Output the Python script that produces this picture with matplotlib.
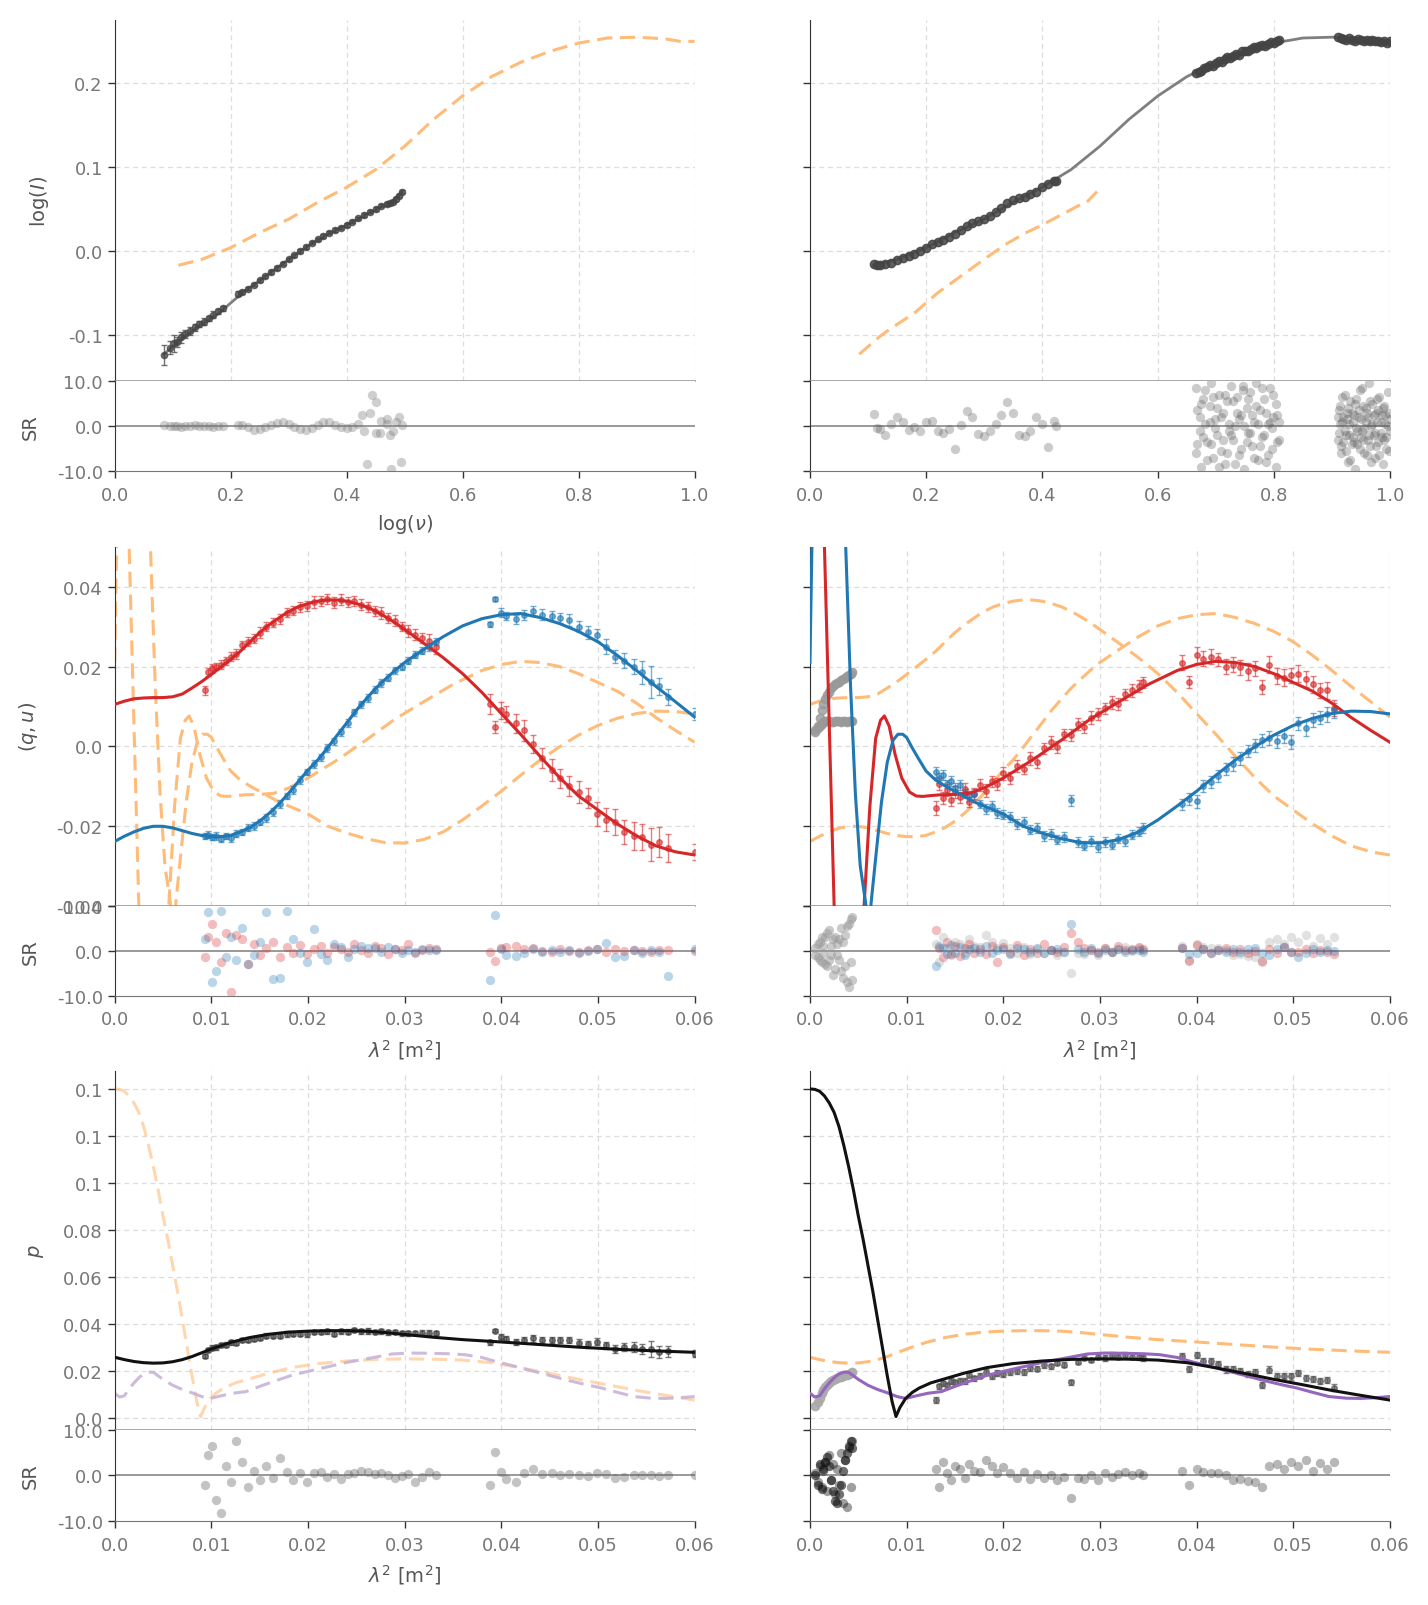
import matplotlib
matplotlib.use("Agg")
import matplotlib.pyplot as plt

# ======================= DATA =======================
# ---- Row 1 : log(I) vs log(nu) ----
xI_L = [0.085,0.095,0.102,0.108,0.115,0.122,0.13,0.138,0.146,0.154,0.162,0.17,0.178,0.186,
        0.212,0.22,0.23,0.24,0.25,0.26,0.27,0.28,0.29,0.30,0.31,0.32,0.33,0.34,0.35,0.36,0.37,
        0.38,0.39,0.40,0.41,0.42,0.43,0.44,0.45,0.46,0.47,0.475,0.48,0.485,0.49,0.495]
yI_L = [-0.124,-0.115,-0.110,-0.108,-0.103,-0.099,-0.095,-0.091,-0.087,-0.084,-0.080,-0.076,-0.072,-0.068,
        -0.051,-0.049,-0.045,-0.040,-0.035,-0.030,-0.025,-0.020,-0.015,-0.010,-0.005,0.000,0.005,0.010,0.014,
        0.018,0.022,0.025,0.028,0.031,0.035,0.039,0.043,0.047,0.050,0.054,0.056,0.057,0.059,0.062,0.066,0.071]
eI_L = [0.012,0.008,0.010,0.006,0.007,0.005,0.005,0.004,0.004,0.004,0.003,0.004,0.003,0.003,
        0.003,0.002,0.002,0.002,0.002,0.002,0.002,0.002,0.002,0.002,0.002,0.002,0.002,0.002,0.002,
        0.002,0.002,0.002,0.002,0.002,0.002,0.002,0.002,0.002,0.002,0.002,0.002,0.002,0.002,0.002,0.002,0.002]
rI_L = [0.2,-0.1,0.0,0.1,-0.2,0.1,0.0,0.2,-0.1,0.0,0.1,-0.2,0.1,0.0,
        0.3,0.2,-0.3,-0.8,-0.6,-0.2,0.2,0.6,0.8,0.4,-0.2,-0.7,-0.9,-0.5,0.3,0.9,0.8,0.2,-0.3,-0.5,
        -0.2,0.4,-1.0,2.8,-1.5,1.2,0.5,-2.0,-1.1,0.9,2.0,0.3]
xI_L_out = [0.443,0.450,0.435,0.476,0.494,0.427,0.457,0.470]
rI_L_out = [6.8,5.3,-8.4,-9.5,-8.0,2.5,-1.5,1.5]
fitI_L_x = [0.085,0.10,0.12,0.14,0.16,0.18,0.20,0.22,0.25,0.28,0.31,0.34,0.37,0.40,0.43,0.46,0.48,0.495]
fitI_L_y = [-0.123,-0.114,-0.102,-0.092,-0.083,-0.074,-0.062,-0.050,-0.035,-0.020,-0.005,0.009,0.021,
            0.031,0.042,0.053,0.060,0.071]

xI_Ra = [0.110,0.115,0.12,0.13,0.14,0.15,0.16,0.17,0.18,0.19,0.20,0.21,0.22,0.23,0.24,0.25,0.26,0.27,
         0.28,0.29,0.30,0.31,0.32,0.33,0.34,0.35,0.36,0.37,0.38,0.39,0.40,0.41,0.42,0.425]
yI_Ra = [-0.016,-0.017,-0.017,-0.016,-0.014,-0.011,-0.008,-0.006,-0.004,0.000,0.004,0.008,0.011,0.013,
         0.017,0.020,0.025,0.030,0.034,0.036,0.038,0.042,0.046,0.051,0.057,0.061,0.063,0.065,0.068,0.071,
         0.076,0.080,0.083,0.083]
rI_Ra = [2.7,-0.4,-0.6,-1.9,0.5,1.9,1.0,-0.8,-0.2,-1.2,0.8,1.1,-1.0,-1.5,-0.6,-5.0,0.2,3.4,2.0,-1.8,
         -2.3,-1.0,0.5,2.5,5.3,3.0,-1.9,-2.3,-1.0,1.9,0.5,-4.6,1.2,0.0]
xI_Rb = [0.665,0.670,0.675,0.680,0.685,0.690,0.695,0.700,0.705,0.710,0.715,0.720,0.725,0.730,0.735,
         0.740,0.745,0.750,0.755,0.760,0.765,0.770,0.775,0.780,0.785,0.790,0.795,0.800,0.805,0.808]
yI_Rb = [0.212,0.214,0.215,0.218,0.219,0.222,0.221,0.224,0.226,0.225,0.229,0.231,0.230,0.233,0.235,
         0.234,0.238,0.239,0.238,0.241,0.243,0.242,0.245,0.246,0.245,0.247,0.249,0.248,0.250,0.252]
xI_Rc = [0.910,0.915,0.920,0.925,0.930,0.935,0.940,0.945,0.950,0.955,0.960,0.965,0.970,0.975,0.980,
         0.985,0.990,0.995,1.000]
yI_Rc = [0.255,0.254,0.253,0.252,0.254,0.252,0.251,0.253,0.252,0.250,0.252,0.251,0.252,0.250,0.251,
         0.249,0.250,0.248,0.250]
rx_Rb = [0.665,0.668,0.672,0.675,0.678,0.682,0.685,0.689,0.692,0.695,0.699,0.702,0.706,0.709,0.712,
         0.716,0.719,0.722,0.726,0.729,0.733,0.736,0.739,0.743,0.746,0.749,0.753,0.756,0.759,0.763,
         0.766,0.769,0.773,0.776,0.779,0.783,0.786,0.789,0.793,0.796,0.799,0.803,0.806,0.809]
rI_Rb1 = [8.5,-4.0,2.0,-9.0,6.0,0.5,-3.5,4.5,9.5,-7.0,1.5,-2.0,7.0,-5.5,3.0,-8.5,5.5,-1.0,9.0,-3.0,
          0.0,6.5,-6.5,2.5,8.0,-9.5,4.0,-1.5,7.5,-4.5,1.0,9.5,-7.5,3.5,-2.5,6.0,-8.0,0.5,8.5,-5.0,
          2.0,5.0,-3.5,1.0]
rI_Rb2 = [-6.0,3.5,-1.0,5.0,-2.5,8.0,-7.5,1.0,-4.0,6.5,-0.5,4.0,-9.0,2.0,-3.0,7.0,-6.0,0.5,-2.0,5.5,
          -8.5,3.0,1.5,-5.0,9.0,0.0,-3.5,6.0,-1.5,2.5,-7.0,4.5,0.5,-4.5,8.5,-2.0,3.0,-6.5,1.0,-0.5,
          7.0,-9.0,2.5,-3.0]
rx_Rc = [0.910,0.912,0.914,0.916,0.918,0.920,0.922,0.924,0.926,0.928,0.930,0.932,0.934,0.936,0.938,
         0.940,0.942,0.944,0.946,0.948,0.950,0.952,0.954,0.956,0.958,0.960,0.962,0.964,0.966,0.968,
         0.970,0.972,0.974,0.976,0.978,0.980,0.982,0.984,0.986,0.988,0.990,0.992,0.994,0.996,0.998,1.000]
rI_Rc1 = [2.0,-1.5,4.5,-6.0,1.0,-3.5,7.0,-2.0,3.0,-8.0,0.5,5.5,-4.0,-2.5,2.5,-9.5,6.0,-1.0,3.5,-5.0,
          1.5,8.5,-3.0,-0.5,4.0,-6.5,2.0,9.5,-4.5,0.0,5.0,-2.0,-7.0,3.0,1.0,-3.5,6.5,-1.5,2.5,-8.5,
          4.5,0.5,-2.5,7.5,-5.5,1.5]
rI_Rc2 = [-3.0,3.5,0.5,-4.5,6.5,2.0,-1.0,-5.5,1.5,4.0,-2.0,-7.5,3.0,1.0,-3.5,5.0,-0.5,-4.0,2.0,8.0,
          -2.5,-1.0,4.5,-6.0,1.0,3.0,-3.0,-2.0,5.5,-8.0,0.5,2.5,-1.5,-4.5,6.0,3.5,-6.5,1.0,-2.5,4.0,
          -3.0,2.5,-5.0,0.0,3.0,-1.0]
fitI_R_x = [0.11,0.15,0.2,0.25,0.3,0.35,0.4,0.45,0.5,0.55,0.6,0.65,0.7,0.75,0.8,0.85,0.9,0.95,0.975,1.0]
fitI_R_y = [-0.017,-0.010,0.004,0.022,0.038,0.058,0.076,0.097,0.125,0.157,0.185,0.208,0.225,0.238,
            0.248,0.254,0.255,0.253,0.250,0.250]

# ---- Rows 2/3 left : lambda^2 data ----
lam_L = [0.0093,0.0097,0.0101,0.0105,0.0110,0.0115,0.0120,0.0126,0.0132,0.0138,0.0144,0.0150,0.0157,
         0.0164,0.0171,0.0178,0.0185,0.0192,0.0199,0.0206,0.0213,0.0220,0.0227,0.0234,0.0241,0.0248,
         0.0255,0.0262,0.0269,0.0276,0.0283,0.0290,0.0297,0.0304,0.0311,0.0318,0.0325,0.0332,
         0.0388,0.0393,0.0400,0.0405,0.0415,0.0424,0.0433,0.0442,0.0452,0.0461,0.0470,0.0480,0.0490,
         0.0499,0.0508,0.0518,0.0527,0.0537,0.0546,0.0555,0.0563,0.0572,0.0600]
q_L = [0.0140,0.0185,0.0195,0.0200,0.0205,0.0215,0.0225,0.0232,0.0255,0.0262,0.0270,0.0285,0.0300,
       0.0310,0.0320,0.0335,0.0340,0.0350,0.0352,0.0362,0.0365,0.0370,0.0360,0.0368,0.0362,0.0364,
       0.0355,0.0350,0.0340,0.0335,0.0322,0.0315,0.0300,0.0290,0.0280,0.0272,0.0265,0.0248,
       0.0105,0.0048,0.0090,0.0080,0.0058,0.0040,0.0005,-0.0030,-0.0060,-0.0080,-0.0100,-0.0115,
       -0.0130,-0.0170,-0.0184,-0.0190,-0.0215,-0.0226,-0.0228,-0.0247,-0.0240,-0.0256,-0.0265]
u_L = [-0.0225,-0.0222,-0.0228,-0.0225,-0.0232,-0.0226,-0.0230,-0.0220,-0.0215,-0.0205,-0.0200,-0.0190,
       -0.0180,-0.0165,-0.0145,-0.0125,-0.0110,-0.0085,-0.0065,-0.0045,-0.0028,-0.0005,0.0012,0.0035,
       0.0058,0.0085,0.0105,0.0122,0.0142,0.0158,0.0172,0.0190,0.0200,0.0215,0.0230,0.0240,0.0250,0.0262,
       0.0306,0.0369,0.0335,0.0327,0.0318,0.0330,0.0339,0.0330,0.0327,0.0322,0.0316,0.0300,0.0286,
       0.0278,0.0250,0.0225,0.0215,0.0200,0.0185,0.0162,0.0150,0.0124,0.0082]
p_L = [0.0265,0.0289,0.0300,0.0301,0.0310,0.0312,0.0322,0.0320,0.0333,0.0333,0.0336,0.0343,0.0350,
       0.0351,0.0351,0.0358,0.0357,0.0360,0.0358,0.0365,0.0366,0.0370,0.0360,0.0370,0.0367,0.0374,
       0.0370,0.0371,0.0368,0.0370,0.0365,0.0368,0.0361,0.0361,0.0362,0.0363,0.0364,0.0361,
       0.0323,0.0372,0.0347,0.0337,0.0323,0.0332,0.0339,0.0331,0.0332,0.0332,0.0331,0.0321,0.0314,
       0.0326,0.0310,0.0294,0.0304,0.0302,0.0294,0.0295,0.0283,0.0284,0.0275]
eq_L = [0.0012,0.0010,0.0011,0.0010,0.0012,0.0010,0.0011,0.0012,0.0010,0.0011,0.0012,0.0013,0.0011,
        0.0012,0.0013,0.0012,0.0011,0.0013,0.0012,0.0014,0.0013,0.0012,0.0014,0.0013,0.0012,0.0013,
        0.0014,0.0012,0.0013,0.0015,0.0013,0.0014,0.0012,0.0015,0.0014,0.0013,0.0016,0.0017,
        0.0025,0.0015,0.0022,0.0020,0.0024,0.0026,0.0022,0.0025,0.0028,0.0024,0.0026,0.0027,0.0025,
        0.0030,0.0028,0.0032,0.0030,0.0035,0.0033,0.0042,0.0038,0.0035,0.0020]
eu_L = [0.0008,0.0009,0.0008,0.0010,0.0009,0.0008,0.0010,0.0009,0.0008,0.0009,0.0010,0.0008,0.0009,
        0.0010,0.0009,0.0008,0.0010,0.0009,0.0008,0.0010,0.0009,0.0010,0.0008,0.0009,0.0010,0.0009,
        0.0008,0.0010,0.0009,0.0010,0.0008,0.0009,0.0010,0.0009,0.0008,0.0009,0.0010,0.0009,
        0.0006,0.0005,0.0012,0.0010,0.0011,0.0013,0.0012,0.0014,0.0013,0.0012,0.0015,0.0014,0.0016,
        0.0015,0.0018,0.0017,0.0020,0.0019,0.0028,0.0040,0.0022,0.0020,0.0015]
ep_L = [0.0010,0.0009,0.0010,0.0011,0.0009,0.0010,0.0011,0.0009,0.0010,0.0011,0.0009,0.0010,0.0011,
        0.0009,0.0010,0.0011,0.0009,0.0010,0.0011,0.0009,0.0010,0.0011,0.0009,0.0010,0.0011,0.0009,
        0.0010,0.0011,0.0009,0.0010,0.0011,0.0009,0.0010,0.0011,0.0009,0.0010,0.0011,0.0009,
        0.0010,0.0007,0.0012,0.0011,0.0013,0.0012,0.0014,0.0013,0.0012,0.0014,0.0013,0.0015,0.0014,
        0.0016,0.0015,0.0018,0.0017,0.0020,0.0022,0.0035,0.0025,0.0022,0.0015]
rq_L = [-1.5,3.0,6.0,2.0,-2.5,4.0,-9.1,3.5,2.5,-3.0,1.5,-1.0,0.5,2.0,-1.5,0.8,-0.5,1.2,-0.8,0.3,1.0,
        -0.6,0.9,0.4,-0.3,1.5,0.2,-0.5,1.0,0.5,-0.8,0.3,0.2,1.5,-0.5,0.2,0.6,0.3,
        -0.2,-2.3,0.5,0.8,1.0,0.3,0.5,0.0,-0.2,0.3,0.0,-0.4,0.2,0.3,-0.2,0.3,-0.1,0.2,0.0,-0.3,0.1,0.2,0.0]
ru_L = [2.5,8.6,-6.9,-4.5,8.8,-1.5,3.0,-2.0,5.0,-3.0,-1.0,2.0,8.6,-6.3,-6.0,8.8,2.5,-0.5,-2.5,4.8,
        -0.8,-2.0,1.5,0.8,-1.5,0.3,1.0,0.5,0.6,-0.3,0.8,0.3,-0.5,0.2,-0.4,0.3,0.1,0.2,
        -6.5,8.0,0.3,-1.0,-1.2,-0.5,0.4,-0.3,0.2,-0.3,0.1,-0.5,-0.1,0.3,1.8,-1.5,-1.3,0.2,-0.6,0.1,-0.2,-5.6,0.3]
rp_L = [-2.0,4.5,6.4,-5.3,-8.3,2.0,-1.5,7.5,3.0,-2.5,1.0,-1.0,2.0,-0.5,3.8,0.8,-1.0,0.5,-1.5,0.6,0.8,
        -0.3,0.4,-0.8,0.3,0.5,1.0,0.8,0.3,0.6,0.2,-0.5,-0.2,0.4,-1.5,-0.3,0.8,0.2,
        -2.1,5.1,0.8,-0.8,-1.5,0.6,1.5,0.3,0.5,0.2,0.4,0.0,-0.2,0.5,0.3,-0.6,-0.4,0.2,0.0,0.2,-0.1,0.0,0.0]

# ---- Rows 2/3 right ----
lam_R = [0.0130,0.0134,0.0138,0.0142,0.0146,0.0150,0.0155,0.0160,0.0165,0.0170,0.0176,0.0182,0.0188,
         0.0194,0.0200,0.0207,0.0214,0.0221,0.0228,0.0235,0.0242,0.0249,0.0256,0.0263,0.0270,0.0277,
         0.0284,0.0291,0.0298,0.0305,0.0312,0.0319,0.0326,0.0333,0.0340,0.0345,
         0.0385,0.0392,0.0400,0.0407,0.0415,0.0422,0.0430,0.0438,0.0445,0.0453,0.0460,0.0468,0.0475,
         0.0483,0.0490,0.0498,0.0505,0.0513,0.0520,0.0528,0.0535,0.0542]
q_R = [-0.0155,-0.0095,-0.0130,-0.0110,-0.0135,-0.0115,-0.0128,-0.0108,-0.0140,-0.0120,-0.0098,-0.0112,
       -0.0088,-0.0095,-0.0068,-0.0080,-0.0050,-0.0058,-0.0030,-0.0040,-0.0005,0.0010,-0.0002,0.0030,
       0.0028,0.0055,0.0048,0.0072,0.0080,0.0095,0.0110,0.0105,0.0130,0.0140,0.0150,0.0160,
       0.0210,0.0160,0.0228,0.0220,0.0225,0.0218,0.0200,0.0205,0.0198,0.0188,0.0195,0.0148,0.0205,
       0.0175,0.0172,0.0178,0.0182,0.0168,0.0155,0.0140,0.0140,0.0095]
u_R = [-0.0065,-0.0080,-0.0072,-0.0095,-0.0088,-0.0105,-0.0098,-0.0118,-0.0125,-0.0120,-0.0145,-0.0158,
       -0.0150,-0.0168,-0.0172,-0.0178,-0.0195,-0.0190,-0.0210,-0.0205,-0.0225,-0.0220,-0.0235,-0.0228,
       -0.0136,-0.0240,-0.0250,-0.0238,-0.0252,-0.0240,-0.0248,-0.0232,-0.0238,-0.0222,-0.0215,-0.0205,
       -0.0146,-0.0133,-0.0138,-0.0100,-0.0090,-0.0075,-0.0058,-0.0045,-0.0030,-0.0011,0.0002,0.0015,
       0.0020,0.0012,0.0025,0.0010,0.0057,0.0045,0.0065,0.0072,0.0080,0.0090]
p_R = [0.0077,0.0135,0.0148,0.0140,0.0157,0.0152,0.0160,0.0158,0.0185,0.0170,0.0180,0.0195,0.0178,
       0.0192,0.0186,0.0195,0.0200,0.0196,0.0212,0.0210,0.0225,0.0220,0.0235,0.0228,0.0153,0.0240,
       0.0258,0.0248,0.0262,0.0256,0.0270,0.0262,0.0268,0.0262,0.0260,0.0255,
       0.0265,0.0208,0.0268,0.0242,0.0242,0.0232,0.0208,0.0210,0.0200,0.0188,0.0195,0.0142,0.0206,
       0.0178,0.0180,0.0178,0.0192,0.0172,0.0166,0.0157,0.0162,0.0130]
eq_R = [0.0018,0.0015,0.0016,0.0014,0.0015,0.0016,0.0014,0.0015,0.0013,0.0014,0.0015,0.0016,0.0014,
        0.0015,0.0016,0.0014,0.0015,0.0013,0.0016,0.0015,0.0014,0.0016,0.0015,0.0014,0.0016,0.0015,
        0.0014,0.0016,0.0015,0.0014,0.0016,0.0015,0.0014,0.0016,0.0015,0.0014,
        0.0018,0.0015,0.0020,0.0018,0.0019,0.0017,0.0020,0.0018,0.0019,0.0021,0.0020,0.0018,0.0022,
        0.0020,0.0021,0.0019,0.0022,0.0020,0.0021,0.0019,0.0022,0.0020]
eu_R = [0.0012,0.0013,0.0012,0.0011,0.0012,0.0013,0.0012,0.0011,0.0013,0.0012,0.0011,0.0012,0.0013,
        0.0012,0.0011,0.0012,0.0013,0.0012,0.0011,0.0012,0.0013,0.0012,0.0011,0.0012,0.0013,0.0012,
        0.0011,0.0012,0.0013,0.0012,0.0011,0.0012,0.0013,0.0012,0.0011,0.0012,
        0.0014,0.0015,0.0016,0.0015,0.0014,0.0016,0.0015,0.0017,0.0016,0.0015,0.0017,0.0016,0.0018,
        0.0017,0.0016,0.0018,0.0017,0.0019,0.0018,0.0017,0.0019,0.0018]
ep_R = [0.0012,0.0010,0.0011,0.0010,0.0012,0.0011,0.0010,0.0012,0.0011,0.0010,0.0011,0.0012,0.0010,
        0.0011,0.0012,0.0010,0.0011,0.0012,0.0010,0.0011,0.0012,0.0010,0.0011,0.0012,0.0010,0.0011,
        0.0012,0.0010,0.0011,0.0012,0.0010,0.0011,0.0012,0.0010,0.0011,0.0012,
        0.0012,0.0013,0.0012,0.0014,0.0013,0.0012,0.0014,0.0013,0.0012,0.0014,0.0013,0.0012,0.0014,
        0.0013,0.0012,0.0014,0.0013,0.0012,0.0014,0.0013,0.0012,0.0014]
rq_R = [4.5,0.5,-1.5,2.0,-0.8,1.0,-1.2,0.5,1.5,-0.5,0.3,-0.8,1.0,-2.5,0.8,-0.5,1.2,-1.0,0.3,-0.6,1.5,
        0.2,-0.3,0.9,4.0,2.0,0.5,0.2,-0.4,0.6,-0.3,1.0,0.2,0.4,0.8,0.3,
        0.5,-2.3,1.2,0.3,-0.5,0.2,0.5,-0.2,0.3,-0.5,0.0,-2.3,0.4,-0.5,0.8,-0.3,-0.2,0.3,-0.6,0.2,-0.3,-0.8]
ru_R = [-3.5,1.0,0.5,-0.8,1.2,-0.5,0.8,-1.0,0.3,0.6,-0.4,1.0,-0.6,0.2,0.4,-0.8,0.5,0.3,-0.2,0.6,-0.5,
        0.2,0.4,-0.3,6.0,0.3,-0.3,0.5,-0.5,0.2,-0.4,0.3,-0.2,0.1,0.2,-0.3,
        0.5,-0.8,-0.5,0.3,-0.6,0.2,-0.3,0.4,-0.2,0.3,0.5,-0.5,-1.0,0.4,0.8,-0.4,-1.5,-0.6,0.3,-0.3,0.2,0.0]
rp_R = [1.5,-2.5,3.0,0.5,-1.0,2.0,1.5,-0.5,2.5,1.0,0.8,3.5,2.0,0.5,1.8,0.5,-0.5,0.8,-0.8,0.3,-0.5,0.2,
        -0.9,-0.3,-5.0,-0.6,-0.8,0.2,-1.0,0.5,-0.4,0.3,0.8,0.0,0.5,0.2,
        1.0,-2.0,1.5,0.8,0.5,0.6,0.2,-1.0,-0.8,-1.2,-1.5,-2.5,2.0,2.5,1.5,3.0,2.0,3.5,1.0,2.8,1.5,3.0]

# low-lambda^2 (grey) data, right column
lam_G = [0.0005,0.0008,0.0010,0.0012,0.0014,0.0016,0.0018,0.0020,0.0022,0.0024,0.0026,0.0028,0.0030,
         0.0032,0.0034,0.0036,0.0038,0.0040,0.0042,0.0043]
qG = [0.0035,0.0050,0.0070,0.0090,0.0105,0.0118,0.0128,0.0137,0.0145,0.0150,0.0155,0.0158,0.0162,
      0.0165,0.0168,0.0172,0.0175,0.0178,0.0182,0.0185]
uG = [0.0040,0.0045,0.0050,0.0056,0.0060,0.0062,0.0064,0.0063,0.0061,0.0060,0.0062,0.0063,0.0062,
      0.0061,0.0063,0.0062,0.0061,0.0062,0.0063,0.0064]
pG = [0.0053,0.0067,0.0086,0.0107,0.0121,0.0133,0.0143,0.0151,0.0157,0.0161,0.0166,0.0170,0.0173,
      0.0176,0.0179,0.0183,0.0185,0.0188,0.0193,0.0196]
rqG = [0.5,-1.5,2.0,-2.5,1.0,3.0,-3.5,4.5,-1.0,2.5,-4.0,1.5,-2.0,5.0,-6.0,3.5,-7.0,6.0,-2.5,7.5]
ruG = [-1.0,1.5,-2.0,3.0,-0.5,-3.0,4.0,-2.0,1.0,-5.5,3.0,-1.0,2.5,-4.5,2.0,-3.5,5.5,-8.0,7.0,-6.5]
rpG = [0.0,-2.0,2.5,-3.0,1.5,3.0,4.0,2.0,-1.0,-3.5,-5.5,-6.0,-4.0,-2.0,1.0,3.5,5.0,6.5,7.5,6.0]

# ---- model curves ----
lam_fit_L = [0.0,0.001,0.002,0.003,0.004,0.005,0.006,0.007,0.008,0.009,0.010,0.011,0.012,0.013,0.014,
             0.015,0.016,0.017,0.018,0.019,0.020,0.021,0.022,0.023,0.024,0.025,0.026,0.027,0.028,0.029,
             0.030,0.032,0.034,0.036,0.038,0.040,0.042,0.044,0.046,0.048,0.050,0.052,0.054,0.056,0.058,0.060]
qfit_L = [0.0105,0.0113,0.0119,0.0121,0.0122,0.0122,0.0124,0.0131,0.0146,0.0162,0.0180,0.0199,0.0218,
          0.0238,0.0262,0.0285,0.0305,0.0322,0.0338,0.0350,0.0358,0.0364,0.0367,0.0367,0.0364,0.0358,
          0.0350,0.0339,0.0325,0.0310,0.0293,0.0258,0.0222,0.0182,0.0135,0.0082,0.0030,-0.0025,-0.0078,
          -0.0125,-0.0160,-0.0195,-0.0225,-0.0250,-0.0265,-0.0273]
ufit_L = [-0.0239,-0.0226,-0.0215,-0.0206,-0.0201,-0.0201,-0.0205,-0.0212,-0.0219,-0.0224,-0.0227,-0.0227,
          -0.0224,-0.0215,-0.0204,-0.0188,-0.0168,-0.0145,-0.0118,-0.0089,-0.0060,-0.0035,-0.0005,0.0027,
          0.0058,0.0090,0.0118,0.0145,0.0168,0.0190,0.0210,0.0243,0.0275,0.0302,0.0320,0.0330,0.0333,
          0.0323,0.0308,0.0288,0.0262,0.0228,0.0190,0.0150,0.0112,0.0073]
lam_qfit_R = [0.0,0.0008,0.0015,0.0020,0.0025,0.0032,0.0040,0.0048,0.0056,0.0062,0.0068,0.0073,0.0077,
              0.0082,0.0088,0.0095,0.0103,0.0110,0.0117,0.0125,0.0135,0.0150,0.0165,0.0180,0.0200,0.0230,
              0.0260,0.0290,0.0320,0.0350,0.0380,0.0400,0.0420,0.0440,0.0460,0.0480,0.0500,0.0520,0.0540,
              0.0560,0.0580,0.0600]
qfit_R = [0.20,0.15,0.05,0.005,-0.04,-0.09,-0.11,-0.085,-0.04,-0.015,0.002,0.0065,0.0076,0.005,-0.002,
          -0.008,-0.0115,-0.0125,-0.0126,-0.0124,-0.0122,-0.0121,-0.0118,-0.0105,-0.0080,-0.0035,0.0015,
          0.0068,0.0112,0.0155,0.0190,0.0205,0.0213,0.0210,0.0200,0.0182,0.0160,0.0138,0.0108,0.0072,
          0.0040,0.0010]
lam_ufit_R = [0.0,0.0002,0.0006,0.0012,0.0020,0.0028,0.0034,0.0037,0.0042,0.0047,0.0052,0.0058,0.0060,
              0.0063,0.0068,0.0074,0.0080,0.0086,0.0091,0.0096,0.0100,0.0106,0.0112,0.0120,0.0130,0.0140,
              0.0155,0.0170,0.0185,0.0200,0.0220,0.0240,0.0260,0.0280,0.0300,0.0320,0.0340,0.0360,0.0380,
              0.0400,0.0420,0.0440,0.0460,0.0480,0.0500,0.0520,0.0540,0.0560,0.0580,0.0600]
ufit_R = [0.021,0.05,0.10,0.15,0.17,0.14,0.08,0.05,0.015,-0.012,-0.03,-0.040,-0.0425,-0.040,-0.028,
          -0.014,-0.004,0.0015,0.0030,0.0030,0.0022,-0.0005,-0.0030,-0.0062,-0.0085,-0.0100,-0.0120,
          -0.0140,-0.0155,-0.0170,-0.0200,-0.0218,-0.0232,-0.0242,-0.0243,-0.0234,-0.0215,-0.0185,
          -0.0150,-0.0113,-0.0073,-0.0035,-0.0002,0.0028,0.0052,0.0070,0.0082,0.0088,0.0087,0.0081]
lam_pfit_L = [0.0,0.001,0.002,0.003,0.004,0.005,0.006,0.007,0.008,0.009,0.010,0.012,0.014,0.016,0.018,
              0.020,0.022,0.024,0.026,0.028,0.030,0.033,0.036,0.040,0.044,0.048,0.052,0.056,0.060]
pfit_L = [0.0259,0.0249,0.0241,0.0236,0.0234,0.0235,0.0240,0.0249,0.0262,0.0278,0.0294,0.0322,0.0343,
          0.0357,0.0366,0.0370,0.0372,0.0372,0.0370,0.0364,0.0356,0.0344,0.0334,0.0324,0.0313,0.0302,
          0.0293,0.0286,0.0280]
lam_pfit_R = [0.0,0.0005,0.0010,0.0015,0.0020,0.0025,0.0030,0.0035,0.0040,0.0045,0.0050,0.0055,0.0060,
              0.0065,0.0070,0.0075,0.0080,0.0085,0.0089,0.0093,0.0099,0.0106,0.0113,0.0125,0.0140,0.0160,
              0.0183,0.0210,0.0240,0.0270,0.0300,0.0330,0.0360,0.0390,0.0420,0.0450,0.0480,0.0510,0.0540,
              0.0570,0.0600]
pfit_R = [0.1400,0.1398,0.1390,0.1370,0.1340,0.1300,0.1240,0.1160,0.1070,0.0970,0.0860,0.0760,0.0650,
          0.0540,0.0420,0.0300,0.0180,0.0070,0.0007,0.0045,0.0084,0.0110,0.0128,0.0150,0.0168,0.0192,
          0.0215,0.0232,0.0243,0.0250,0.0252,0.0251,0.0247,0.0236,0.0214,0.0190,0.0165,0.0142,0.0118,
          0.0097,0.0077]
lam_pq = [0.0,0.0005,0.0010,0.0015,0.0020,0.0025,0.0030,0.0035,0.0040,0.0045,0.0050,0.0060,0.0070,0.0080,
          0.0090,0.0099,0.0110,0.0122,0.0136,0.0150,0.0165,0.0183,0.0202,0.0220,0.0240,0.0260,0.0287,
          0.0305,0.0325,0.0345,0.0362,0.0380,0.0395,0.0410,0.0428,0.0447,0.0466,0.0485,0.0504,0.0520,
          0.0537,0.0555,0.0570,0.0585,0.0600]
pq_R = [0.0106,0.0090,0.0095,0.0125,0.0150,0.0172,0.0188,0.0196,0.0195,0.0180,0.0165,0.0140,0.0122,
        0.0108,0.0092,0.0084,0.0095,0.0106,0.0113,0.0135,0.0157,0.0182,0.0201,0.0218,0.0237,0.0252,
        0.0273,0.0277,0.0276,0.0274,0.0270,0.0258,0.0240,0.0225,0.0205,0.0185,0.0164,0.0145,0.0128,
        0.0110,0.0092,0.0085,0.0084,0.0087,0.0092]

# ---- ticks ----
xt_nu = [0.0,0.2,0.4,0.6,0.8,1.0]
xt_nu_lab = ['0.0','0.2','0.4','0.6','0.8','1.0']
xt_lam = [0.0,0.01,0.02,0.03,0.04,0.05,0.06]
xt_lam_lab = ['0.0','0.01','0.02','0.03','0.04','0.05','0.06']
yt_I = [-0.1,0.0,0.1,0.2]
yt_I_lab = ['-0.1','0.0','0.1','0.2']
yt_qu = [-0.04,-0.02,0.0,0.02,0.04]
yt_qu_lab = ['-0.04','-0.02','0.0','0.02','0.04']
yt_p = [0.0,0.02,0.04,0.06,0.08,0.10,0.12,0.14]
yt_p_lab = ['0.0','0.02','0.04','0.06','0.08','0.1','0.1','0.1']
yt_sr = [-10,0,10]
yt_sr_lab = ['-10.0','0.0','10.0']

# ======================= PLOT =======================
RED, BLUE, ORANGE = '#d62728', '#1f77b4', '#ffbb78'
TXT = '#777777'
LAB = '#555555'
FS = 13

fig = plt.figure(figsize=(14.28, 16.06), dpi=100)
XL, XR, WD = 0.0803, 0.5672, 0.4061
rows = [(0.7621, 0.2251, 0.7061, 0.0560),
        (0.4355, 0.2233, 0.3794, 0.0561),
        (0.1090, 0.2232, 0.0523, 0.0567)]


def mk(row, col):
    x0 = XL if col == 0 else XR
    yb, h, ryb, rh = rows[row]
    ax = fig.add_axes([x0, yb, WD, h])
    rx = fig.add_axes([x0, ryb, WD, rh])
    return ax, rx


def style_main(ax, xlim, xt, ylim, yt, ylab, show):
    ax.set_xlim(xlim)
    ax.set_ylim(ylim)
    ax.set_xticks(xt)
    ax.set_yticks(yt)
    ax.set_yticklabels(ylab if show else [])
    ax.tick_params(axis='x', length=0, labelbottom=False)
    ax.tick_params(axis='y', length=5, width=1, color='#333333', labelcolor=TXT, labelsize=FS)
    ax.grid(True, ls=(0, (4, 3)), color='#dddddd', lw=0.9)
    ax.set_axisbelow(True)
    for s in ['top', 'right']:
        ax.spines[s].set_visible(False)
    ax.spines['left'].set_color('#333333')
    ax.spines['bottom'].set_color('#999999')
    ax.spines['bottom'].set_linewidth(1.2)


def style_res(rx, xlim, xt, xlab, show):
    rx.set_xlim(xlim)
    rx.set_ylim(-10, 10)
    rx.set_xticks(xt)
    rx.set_xticklabels(xlab)
    rx.set_yticks(yt_sr)
    rx.set_yticklabels(yt_sr_lab if show else [])
    rx.axhline(0, color='#888888', lw=1.2, zorder=0)
    rx.tick_params(axis='both', length=5, width=1, color='#333333', labelcolor=TXT, labelsize=FS)
    rx.tick_params(axis='x', pad=5.5)
    for s in ['top', 'right']:
        rx.spines[s].set_visible(False)
    rx.spines['left'].set_color('#333333')
    rx.spines['bottom'].set_color('#777777')


def ylab(ax, text):
    ax.set_ylabel(text, fontsize=FS + 1, color=LAB, labelpad=12)


def xlab(ax, text):
    ax.set_xlabel(text, fontsize=FS + 1, color=LAB, labelpad=6)


def ebar(ax, x, y, e, c, ms=4, alpha=0.6):
    ax.errorbar(x, y, yerr=e, fmt='o', ms=ms, color=c, ecolor=c, elinewidth=1, capsize=2.5,
                alpha=alpha, zorder=2)


DASH = (0, (5, 2.5))
RS = 45

# ---------- Row 1 ----------
ax, rx = mk(0, 0)
ax.plot(fitI_R_x, fitI_R_y, color=ORANGE, lw=2.2, ls=DASH, zorder=1)
ax.plot(fitI_L_x, fitI_L_y, color='#7f7f7f', lw=2, zorder=2)
ebar(ax, xI_L, yI_L, eI_L, '#444444', ms=4.5, alpha=0.75)
style_main(ax, (0, 1), xt_nu, (-0.155, 0.276), yt_I, yt_I_lab, True)
ylab(ax, 'log($I$)')
rx.scatter(xI_L, rI_L, s=RS, color='#777777', alpha=0.35, lw=0)
rx.scatter(xI_L_out, rI_L_out, s=RS, color='#777777', alpha=0.35, lw=0)
style_res(rx, (0, 1), xt_nu, xt_nu_lab, True)
ylab(rx, 'SR')
xlab(rx, 'log($\\nu$)')

ax, rx = mk(0, 1)
ax.plot(fitI_L_x, fitI_L_y, color=ORANGE, lw=2.2, ls=DASH, zorder=1)
ax.plot(fitI_R_x, fitI_R_y, color='#7f7f7f', lw=2, zorder=2)
for xs, ys in [(xI_Ra, yI_Ra), (xI_Rb, yI_Rb), (xI_Rc, yI_Rc)]:
    ax.plot(xs, ys, 'o', ms=6, color='#444444', alpha=0.85, zorder=3)
style_main(ax, (0, 1), xt_nu, (-0.155, 0.276), yt_I, yt_I_lab, False)
rx.scatter(xI_Ra, rI_Ra, s=RS, color='#555555', alpha=0.3, lw=0)
rx.scatter(rx_Rb, rI_Rb1, s=RS, color='#555555', alpha=0.3, lw=0)
rx.scatter(rx_Rb, rI_Rb2, s=RS, color='#555555', alpha=0.3, lw=0)
rx.scatter(rx_Rc, rI_Rc1, s=RS, color='#555555', alpha=0.3, lw=0)
rx.scatter(rx_Rc, rI_Rc2, s=RS, color='#555555', alpha=0.3, lw=0)
style_res(rx, (0, 1), xt_nu, xt_nu_lab, False)

# ---------- Row 2 ----------
ax, rx = mk(1, 0)
ax.plot(lam_qfit_R, qfit_R, color=ORANGE, lw=2.2, ls=DASH, zorder=1)
ax.plot(lam_ufit_R, ufit_R, color=ORANGE, lw=2.2, ls=DASH, zorder=1)
ebar(ax, lam_L, q_L, eq_L, RED)
ebar(ax, lam_L, u_L, eu_L, BLUE)
ax.plot(lam_fit_L, qfit_L, color=RED, lw=2.2, zorder=3)
ax.plot(lam_fit_L, ufit_L, color=BLUE, lw=2.2, zorder=3)
style_main(ax, (0, 0.06), xt_lam, (-0.04, 0.05), yt_qu, yt_qu_lab, True)
ylab(ax, '$(q,u)$')
rx.scatter(lam_L, rq_L, s=RS, color=RED, alpha=0.3, lw=0)
rx.scatter(lam_L, ru_L, s=RS, color=BLUE, alpha=0.3, lw=0)
style_res(rx, (0, 0.06), xt_lam, xt_lam_lab, True)
ylab(rx, 'SR')
xlab(rx, '$\\lambda^2$ [m$^2$]')

ax, rx = mk(1, 1)
ax.plot(lam_fit_L, qfit_L, color=ORANGE, lw=2.2, ls=DASH, zorder=1)
ax.plot(lam_fit_L, ufit_L, color=ORANGE, lw=2.2, ls=DASH, zorder=1)
ax.plot(lam_G, qG, 'o', ms=6, color='#999999', alpha=0.8, zorder=2)
ax.plot(lam_G, uG, 'o', ms=6, color='#999999', alpha=0.8, zorder=2)
ebar(ax, lam_R, q_R, eq_R, RED)
ebar(ax, lam_R, u_R, eu_R, BLUE)
ax.plot(lam_qfit_R, qfit_R, color=RED, lw=2.2, zorder=3)
ax.plot(lam_ufit_R, ufit_R, color=BLUE, lw=2.2, zorder=3)
style_main(ax, (0, 0.06), xt_lam, (-0.04, 0.05), yt_qu, yt_qu_lab, False)
rx.scatter(lam_R, rp_R, s=RS, color='#aaaaaa', alpha=0.35, lw=0)
rx.scatter(lam_G, rqG, s=RS, color='#999999', alpha=0.5, lw=0)
rx.scatter(lam_G, ruG, s=RS, color='#999999', alpha=0.5, lw=0)
rx.scatter(lam_R, rq_R, s=RS, color=RED, alpha=0.3, lw=0)
rx.scatter(lam_R, ru_R, s=RS, color=BLUE, alpha=0.3, lw=0)
style_res(rx, (0, 0.06), xt_lam, xt_lam_lab, False)
xlab(rx, '$\\lambda^2$ [m$^2$]')

# ---------- Row 3 ----------
ax, rx = mk(2, 0)
ax.plot(lam_pfit_R, pfit_R, color=ORANGE, lw=2.2, ls=DASH, alpha=0.6, zorder=1)
ax.plot(lam_pq, pq_R, color='#c5b0d5', lw=2.2, ls=DASH, alpha=0.85, zorder=1)
ebar(ax, lam_L, p_L, ep_L, '#444444', alpha=0.7)
ax.plot(lam_pfit_L, pfit_L, color='#111111', lw=2.2, zorder=3)
style_main(ax, (0, 0.06), xt_lam, (-0.005, 0.1474), yt_p, yt_p_lab, True)
ylab(ax, '$p$')
rx.scatter(lam_L, rp_L, s=RS, color='#555555', alpha=0.35, lw=0)
style_res(rx, (0, 0.06), xt_lam, xt_lam_lab, True)
ylab(rx, 'SR')
xlab(rx, '$\\lambda^2$ [m$^2$]')

ax, rx = mk(2, 1)
ax.plot(lam_pfit_L, pfit_L, color=ORANGE, lw=2.2, ls=DASH, zorder=1)
ax.plot(lam_G, pG, 'o', ms=6, color='#aaaaaa', alpha=0.9, zorder=2)
ebar(ax, lam_R, p_R, ep_R, '#555555', alpha=0.7)
ax.plot(lam_pq, pq_R, color='#9467bd', lw=2.2, zorder=3)
ax.plot(lam_pfit_R, pfit_R, color='#111111', lw=2.2, zorder=3)
style_main(ax, (0, 0.06), xt_lam, (-0.005, 0.1474), yt_p, yt_p_lab, False)
rx.scatter(lam_R, rp_R, s=RS, color='#333333', alpha=0.35, lw=0)
rx.scatter(lam_G, rpG, s=RS, color='#111111', alpha=0.6, lw=0)
rx.scatter(lam_G, rqG, s=RS, color='#111111', alpha=0.4, lw=0)
style_res(rx, (0, 0.06), xt_lam, xt_lam_lab, False)

fig.savefig('out.png', dpi=100)
